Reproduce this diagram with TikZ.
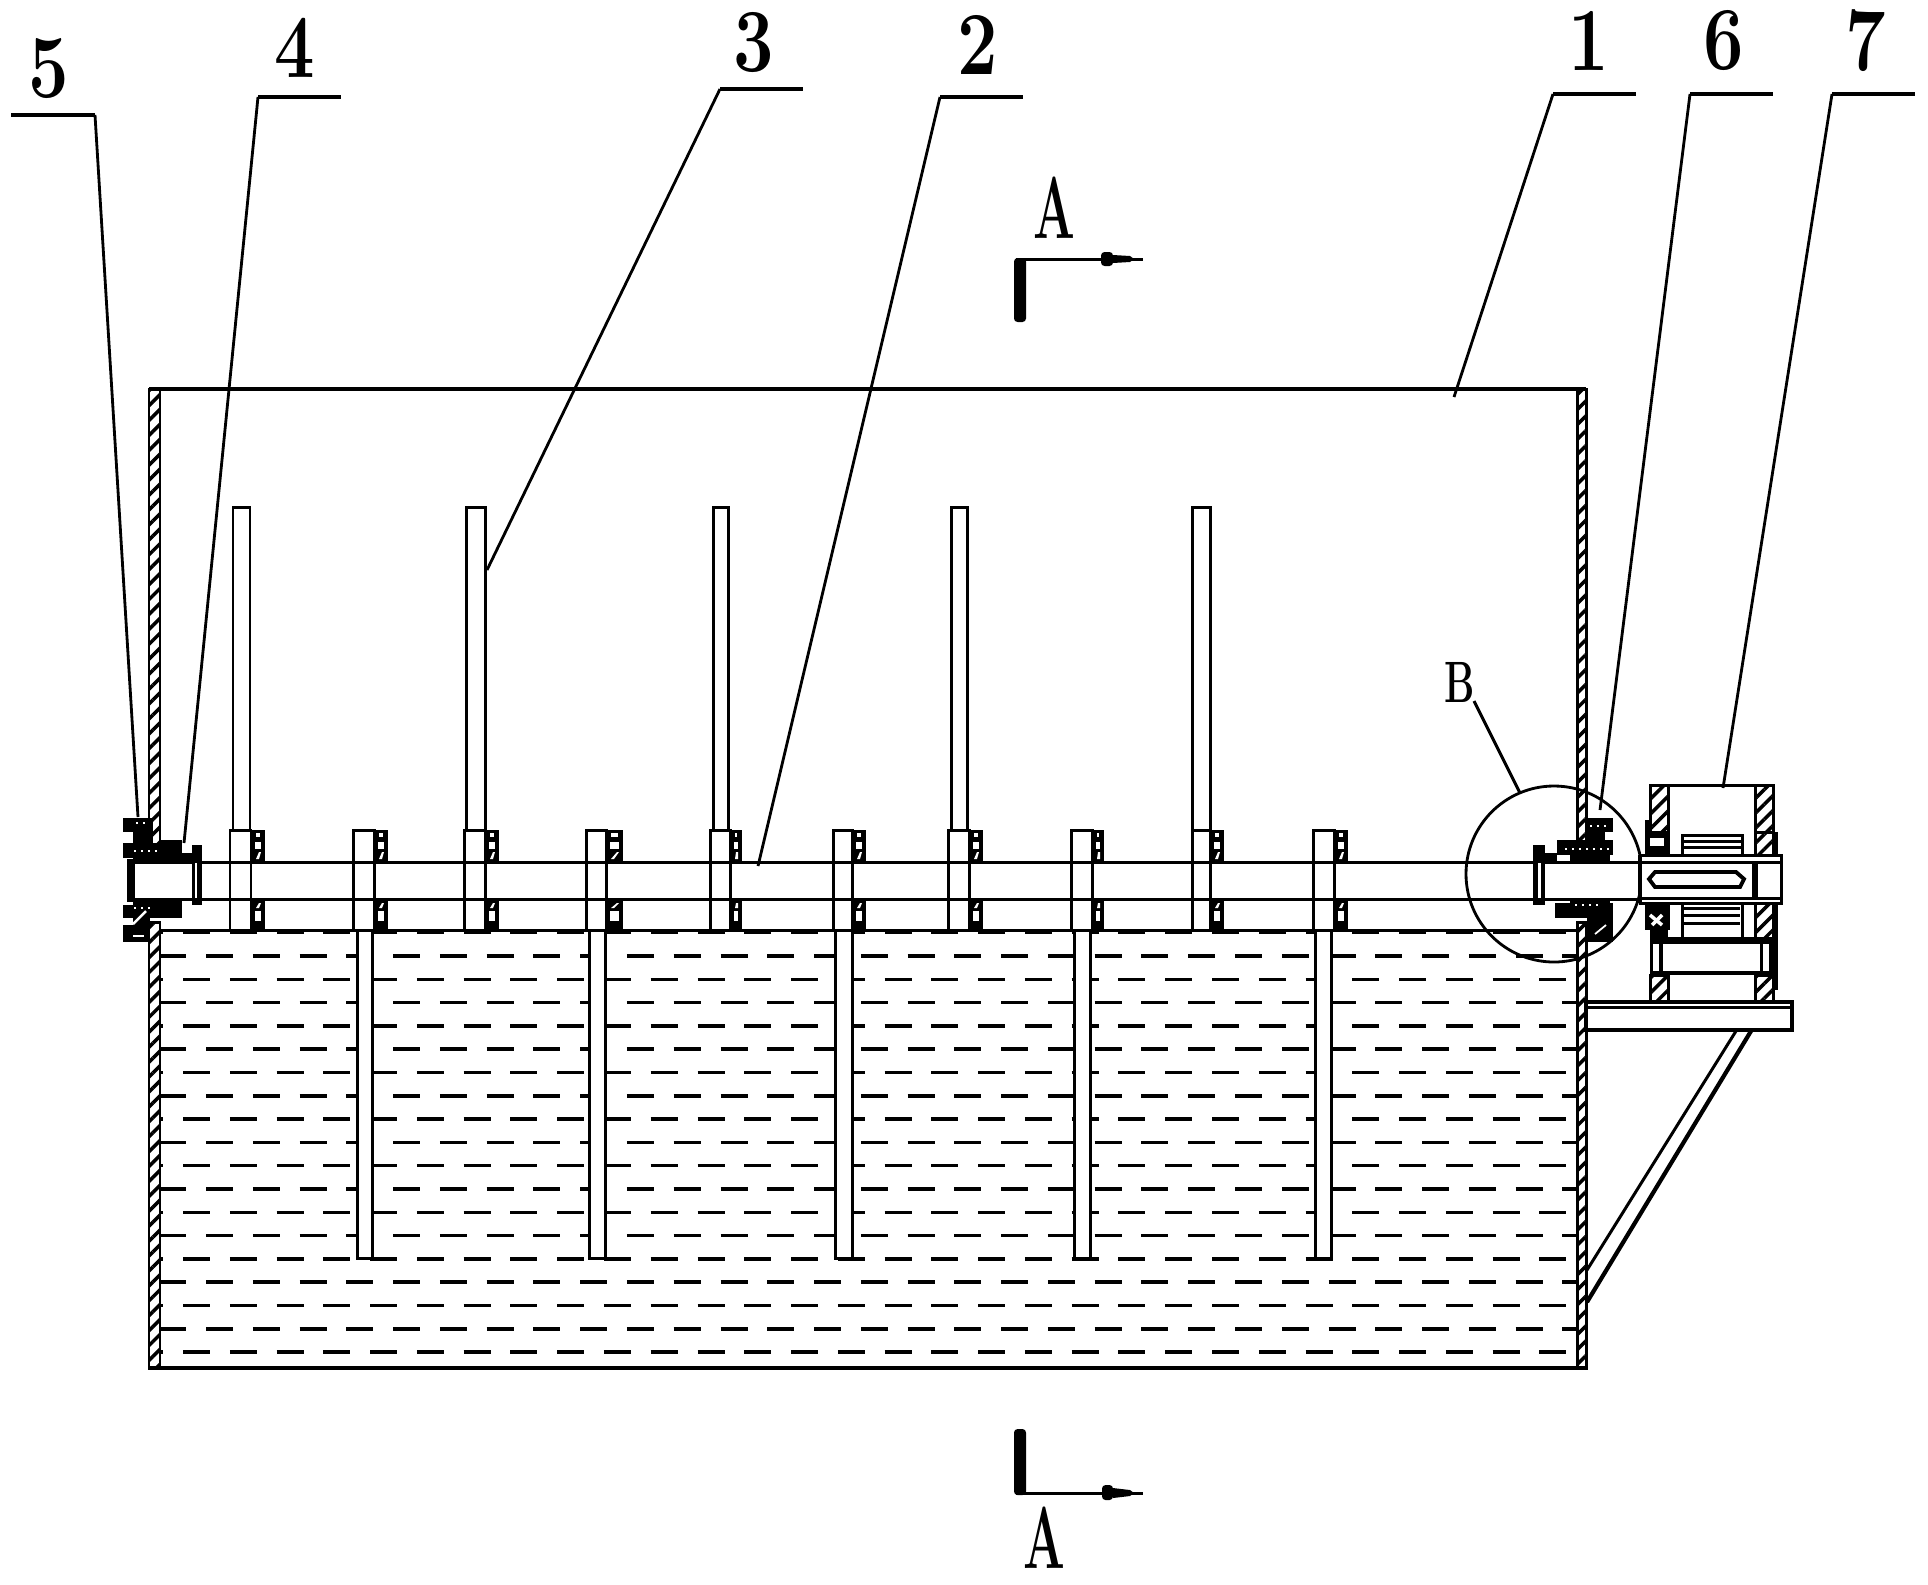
\documentclass[tikz,border=0pt]{standalone}
\usepackage{tikz}
\usetikzlibrary{patterns.meta}

\tikzset{
	part/.style={line width=0.85pt},
	thin part/.style={line width=0.8pt},
	hatched/.style={part, pattern={Lines[angle=45,distance=3pt,line width=1pt]}},
	wave/.style={line width=1pt, dash pattern=on 7.68pt off 5.62pt},
	speck/.style={white, line width=0.6pt, dash pattern=on 0.6pt off 1.4pt},
	numlabel/.style={inner sep=0pt, font=\fontsize{25.6}{30}\selectfont\bfseries},
	seclabel/.style={inner sep=0pt, font=\fontsize{25}{30}\selectfont\bfseries},
}
% one pair of rings on the shaft, #1 and #2 are the left and right edge
\newcommand{\ringpair}[2]{
	\fill (#1,830) rectangle (#2,862);
	\fill (#1,899) rectangle (#2,930);
	\fill[white] (#1+4,842) rectangle (#2-4,849);
	\fill[white] (#1+4,911) rectangle (#2-4,921);
	\fill[white] (#1+5,859) -- (#2-6,852) -- (#2-4,852) -- (#1+8,859) -- cycle;
	\fill[white] (#1+5,908) -- (#2-6,903) -- (#2-4,903) -- (#1+8,908) -- cycle;
	\fill[white] (#1+5,833) rectangle (#2-5,837);
}

\begin{document}
\begin{tikzpicture}[x=0.01cm, y=-0.01cm]
	\useasboundingbox (0,0) rectangle (1928,1584);

	% Water
	\begin{scope}
		\clip (160,920) rectangle (1577,1368);
		\foreach \k in {0,2,...,16}
			\draw[wave] (159.25,{956+23.3*\k}) -- (1577,{956+23.3*\k});
		\foreach \k in {-1,1,...,17}
			\draw[wave] (136.25,{956+23.3*\k}) -- (1577,{956+23.3*\k});
	\end{scope}
	\draw[part] (160,930) -- (1577,930);

	% Tank walls
	\draw[hatched] (149,389) rectangle (160,855);
	\draw[hatched] (149,922) rectangle (160,1368);
	\draw[hatched] (1577,389) rectangle (1586,845);
	\draw[hatched] (1577,922) rectangle (1586,1368);
	\draw[part, line width=1.1pt] (149,389) -- (1586,389);
	\draw[part, line width=1.1pt] (149,1368) -- (1586,1368);

	% Paddles above the shaft
	\foreach \a/\b/\c/\d/\e in {230/251/265/233/250, 464/485/499/466/485, 710/730/742/713/728, 948/969/983/951/967, 1192/1210/1224/1192/1210} {
		\draw[part, fill=white] (\d,507) rectangle (\e,830);
		\draw[part, fill=white] (\a,830) rectangle (\b,930);
		\ringpair{\b}{\c}
	}
	% Paddles below the shaft
	\foreach \a/\b/\c/\d/\e in {353/374/388/357/372, 586/606/623/589/605, 833/852/866/835/852, 1071/1092/1104/1074/1090, 1313/1334/1348/1315/1331} {
		\draw[part, fill=white] (\d,930) rectangle (\e,1258);
		\draw[part, fill=white] (\a,830) rectangle (\b,930);
		\ringpair{\b}{\c}
	}

	% Shaft
	\draw[part] (131,862) -- (1640,862);
	\draw[part] (131,899) -- (1640,899);
	\draw[line width=2.2pt] (131,859) -- (131,902);

	% Left seal
	\fill (123,818) rectangle (153,832);
	\fill (133,832) rectangle (153,843);
	\fill (123,843) rectangle (160,858);
	\fill (133,858) rectangle (182,862);
	\fill (160,840) rectangle (182,860);
	\fill (133,899) rectangle (182,905);
	\fill (123,905) rectangle (182,918);
	\fill (133,918) rectangle (150,925);
	\fill (123,925) rectangle (150,942);
	\draw[speck] (134,851) -- (160,851);
	\draw[speck] (136,823) -- (148,823);
	\draw[speck] (134,908) -- (152,908);
	\draw[white, line width=0.7pt] (133,924) -- (146,911);
	\draw[white, line width=0.5pt] (133,936) -- (144,936);
	% Left collar
	\fill (192,845) rectangle (202,905);
	\fill (180,853) rectangle (192,862);
	\fill[white] (194.5,863) rectangle (197,898);

	% Right seal
	\fill (1585,818) rectangle (1613,832);
	\fill (1585,832) rectangle (1605,842);
	\fill (1557,840) rectangle (1613,855);
	\fill (1570,855) rectangle (1610,862);
	\fill (1570,899) rectangle (1610,905);
	\fill (1555,903) rectangle (1613,918);
	\fill (1587,918) rectangle (1613,942);
	\draw[speck] (1565,849) -- (1610,849);
	\draw[speck] (1590,826) -- (1610,826);
	\draw[speck] (1575,905) -- (1600,905);
	\draw[white, line width=0.5pt] (1595,934) -- (1606,925);
	% Right collar
	\fill (1533,845) rectangle (1545,905);
	\fill (1545,853) rectangle (1557,862);
	\fill[white] (1538,863) rectangle (1540.5,898);

	% Circle of detail B
	\draw[thin part] (1554,874) circle (88);

	% Gearbox, upper half
	\draw[hatched] (1650,785) rectangle (1668,832);
	\draw[hatched] (1755,785) rectangle (1773,832);
	\draw[part] (1650,785) -- (1773,785);
	\fill (1645,832) rectangle (1670,855);
	\fill (1645,820) rectangle (1650,845);
	\fill[white] (1650,838) rectangle (1664,846);
	\draw[hatched] (1755,832) rectangle (1773,855);
	\fill (1773,832) rectangle (1778,855);
	\draw[part] (1682,835) rectangle (1742,855);
	\draw[part] (1682,841) -- (1742,841);
	\draw[part] (1682,847) -- (1742,847);

	% Gearbox, shaft end
	\draw[part, fill=white] (1640,855) rectangle (1781,903);
	\draw[part] (1640,862) -- (1781,862);
	\draw[part] (1640,898) -- (1781,898);
	\draw[line width=1.3pt] (1640,855) -- (1640,903);
	\draw[part, line width=1.1pt] (1655,872) -- (1736,872) -- (1744,879) -- (1740,887) -- (1655,887) -- (1649,879) -- cycle;
	\draw[line width=1.6pt] (1755,862) -- (1755,898);

	% Gearbox, lower half
	\fill (1645,903) rectangle (1670,930);
	\fill (1650,930) rectangle (1668,940);
	\draw[white, line width=1pt] (1650,915) -- (1662,925);
	\draw[white, line width=1pt] (1662,915) -- (1652,925);
	\draw[part] (1682,903) -- (1682,938);
	\draw[part] (1742,903) -- (1742,938);
	\draw[part] (1684,908) -- (1740,908);
	\draw[part] (1684,915) -- (1740,915);
	\draw[part] (1684,923) -- (1740,923);
	\draw[part] (1668,938) -- (1755,938);
	\draw[hatched] (1755,903) rectangle (1773,938);
	\fill (1773,903) rectangle (1778,990);
	\fill (1650,940) rectangle (1773,975);
	\fill[white] (1663,944) rectangle (1760,971);
	\fill[white] (1653,944) rectangle (1659,971);
	\fill[white] (1763,944) rectangle (1769,971);
	\draw[hatched] (1650,975) rectangle (1668,1002);
	\draw[hatched] (1755,975) rectangle (1773,1002);

	% Base plate and brace
	\draw[part, line width=1.1pt] (1586,1002) rectangle (1792,1030);
	\draw[part] (1586,1007) -- (1792,1007);
	\draw[part] (1736,1031) -- (1587,1270);
	\draw[part, line width=1.2pt] (1751,1031) -- (1587,1302);

	% Part numbers
	\node (lab5) [numlabel] at (49,69) {\scalebox{0.8}[1]{5}};
	\node (lab4) [numlabel] at (295,48) {\scalebox{0.8}[1]{4}};
	\node (lab3) [numlabel] at (754,43) {\scalebox{0.8}[1]{3}};
	\node (lab2) [numlabel] at (978,45) {\scalebox{0.8}[1]{2}};
	\node (lab1) [numlabel] at (1589,41) {\scalebox{0.8}[1]{1}};
	\node (lab6) [numlabel] at (1724,41) {\scalebox{0.8}[1]{6}};
	\node (lab7) [numlabel] at (1866,41) {\scalebox{0.8}[1]{7}};

	% Leaders
	\draw[thin part, line width=1.1pt] (11,115) -- (95,115);
	\draw[thin part] (95,115) -- (138,817);
	\draw[thin part, line width=1.1pt] (258,97) -- (341,97);
	\draw[thin part] (258,97) -- (184,843);
	\draw[thin part, line width=1.1pt] (720,89) -- (803,89);
	\draw[thin part] (720,89) -- (487,570);
	\draw[thin part, line width=1.1pt] (940,97) -- (1023,97);
	\draw[thin part] (940,97) -- (758,866);
	\draw[thin part, line width=1.1pt] (1553,94) -- (1636,94);
	\draw[thin part] (1553,94) -- (1454,397);
	\draw[thin part, line width=1.1pt] (1690,94) -- (1773,94);
	\draw[thin part] (1690,94) -- (1600,810);
	\draw[thin part, line width=1.1pt] (1832,94) -- (1915,94);
	\draw[thin part] (1832,94) -- (1723,788);

	% Detail label
	\node (labB) [inner sep=0pt, font=\fontsize{16.6}{20}\selectfont\bfseries] at (1460,682) {\scalebox{0.65}[1]{B}};
	\draw[part] (1474,701) -- (1520,793);

	% Section marks
	\node (secAtop) [seclabel] at (1054,208) {\scalebox{0.56}[1]{A}};
	\node (secAbot) [seclabel] at (1044,1538) {\scalebox{0.56}[1]{A}};
	\fill[rounded corners=1pt] (1014,258) rectangle (1026,322);
	\draw[part] (1016,259) -- (1143,259);
	\fill[rounded corners=1pt] (1101,252) rectangle (1113,266);
	\fill (1113,255) -- (1130,256) -- (1134,259) -- (1130,262) -- (1113,263) -- cycle;
	\fill[rounded corners=1pt] (1014,1429) rectangle (1026,1495);
	\draw[part] (1016,1493) -- (1143,1493);
	\fill[rounded corners=1pt] (1102,1485) rectangle (1113,1500);
	\fill (1113,1488) -- (1130,1490) -- (1134,1493) -- (1130,1496) -- (1113,1498) -- cycle;
\end{tikzpicture}
\end{document}
